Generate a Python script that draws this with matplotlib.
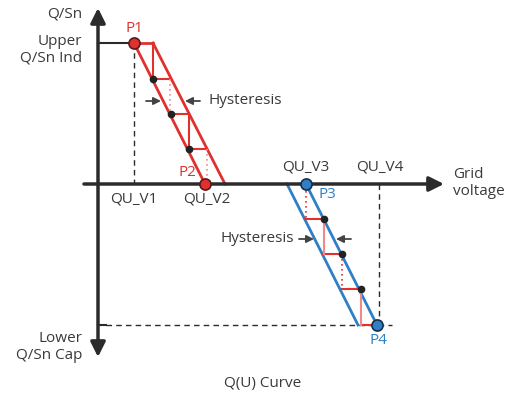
import matplotlib.pyplot as plt

# diagram geometry in pixel units of the 508x398 picture (y grows downward)
y_axis_x = 98
x_axis_y = 184
upper_y = 43
lower_y = 325

# red branch: points P1, P2 and outer hysteresis line
p1 = (134, 43)
p2 = (205, 184)
red_outer = [(153, 43), (225, 184)]
red_dots = [(153, 79), (171, 114), (189, 149)]
red_step_x = [153, 171, 189, 207]   # inner/outer step corners
red_step_y = [43, 79, 114, 149, 184]

# blue branch: points P3, P4 and outer hysteresis line
p3 = (306, 184)
p4 = (377, 325)
blue_outer = [(287, 184), (358, 325)]
blue_dots = [(324, 219), (342, 254), (361, 289)]

RED = '#e0312f'
BLUE = '#2f7fc6'
AX = '#2b2b2b'
TXT = '#3a3a3a'
LIGHT = '#f08a8a'

fig = plt.figure(figsize=(5.08, 3.98), dpi=100)
ax = fig.add_axes([0, 0, 1, 1])
ax.set_xlim(0, 508)
ax.set_ylim(398, 0)
ax.axis('off')

# axes with arrow heads
ax.annotate('', xy=(y_axis_x, 8), xytext=(y_axis_x, 357),
            arrowprops=dict(arrowstyle='<|-|>', lw=2.5, color=AX, mutation_scale=22,
                            shrinkA=0, shrinkB=0))
ax.annotate('', xy=(444, x_axis_y), xytext=(84, x_axis_y),
            arrowprops=dict(arrowstyle='-|>', lw=2.5, color=AX, mutation_scale=22,
                            shrinkA=0, shrinkB=0))

# upper level and guide lines
ax.plot([y_axis_x, p1[0]], [upper_y, upper_y], color=AX, lw=1.5)
ax.plot([p1[0], p1[0]], [upper_y, x_axis_y], color=AX, lw=1, ls=(0, (4, 3)))
ax.plot([y_axis_x, 106], [lower_y, lower_y], color=AX, lw=1.5)
ax.plot([106, 392], [lower_y, lower_y], color=AX, lw=1, ls=(0, (4, 3)))
ax.plot([379, 379], [x_axis_y, lower_y], color=AX, lw=1, ls=(0, (4, 3)))

# red branch
ax.plot([p1[0], p2[0]], [p1[1], p2[1]], color=RED, lw=2)
ax.plot([red_outer[0][0], red_outer[1][0]], [red_outer[0][1], red_outer[1][1]], color=RED, lw=2)
ax.plot([p1[0], red_outer[0][0]], [upper_y, upper_y], color=RED, lw=2)
for i in range(3):
    x0 = red_step_x[i]
    ya, yb = red_step_y[i], red_step_y[i + 1]
    ax.plot([red_dots[i][0], x0 + 18], [yb, yb], color=RED, lw=1.5)
    if i % 2 == 0:
        ax.plot([x0, x0], [ya, yb], color=RED, lw=1.5)
ax.plot([170, 170], [79, 114], color=LIGHT, lw=1.2, ls=(0, (1, 2)))
ax.plot([207, 207], [149, 184], color=LIGHT, lw=1.2, ls=(0, (1, 2)))
ax.plot([s[0] for s in red_dots], [s[1] for s in red_dots], 'o', color='#222', ms=4.5, zorder=5)

# blue branch
ax.plot([p3[0], p4[0]], [p3[1], p4[1]], color=BLUE, lw=2)
ax.plot([blue_outer[0][0], blue_outer[1][0]], [blue_outer[0][1], blue_outer[1][1]], color=BLUE, lw=2)
for xd, yd in blue_dots:
    ax.plot([xd - 19, xd], [yd, yd], color=RED, lw=1.5)
ax.plot([361, 377], [lower_y, lower_y], color=RED, lw=1.5)
ax.plot([306, 306], [186, 219], color=RED, lw=1.2, ls=(0, (1, 2)))
ax.plot([324, 324], [219, 254], color=LIGHT, lw=1.5)
ax.plot([342, 342], [254, 289], color=RED, lw=1.2, ls=(0, (1, 2)))
ax.plot([361, 361], [289, 325], color=LIGHT, lw=1.5)
ax.plot([s[0] for s in blue_dots], [s[1] for s in blue_dots], 'o', color='#222', ms=4.5, zorder=5)

# key points
ax.plot(*p1, 'o', color=RED, mec='#5a1a1a', mew=1.2, ms=8, zorder=6)
ax.plot(*p2, 'o', color=RED, mec='#5a1a1a', mew=1.2, ms=8, zorder=6)
ax.plot(*p3, 'o', color=BLUE, mec='#1a2e4a', mew=1.2, ms=8, zorder=6)
ax.plot(*p4, 'o', color=BLUE, mec='#1a2e4a', mew=1.2, ms=8, zorder=6)

# hysteresis arrows
arr = dict(arrowstyle='-|>', lw=1.3, color='#444', mutation_scale=11, shrinkA=0, shrinkB=0)
ax.annotate('', xy=(161, 101), xytext=(146, 101), arrowprops=arr)
ax.annotate('', xy=(185, 101), xytext=(200, 101), arrowprops=arr)
ax.annotate('', xy=(314, 239), xytext=(299, 239), arrowprops=arr)
ax.annotate('', xy=(336, 239), xytext=(351, 239), arrowprops=arr)

fs = 11
kw = dict(fontsize=fs, color=TXT, family='Open Sans')
ax.text(208, 101, 'Hysteresis', ha='left', va='center', **kw)
ax.text(294, 239, 'Hysteresis', ha='right', va='center', **kw)
ax.text(82, 14, 'Q/Sn', ha='right', va='center', **kw)
ax.text(82, 50, 'Upper\nQ/Sn Ind', ha='right', va='center', linespacing=1.1, **kw)
ax.text(82, 347, 'Lower\nQ/Sn Cap', ha='right', va='center', linespacing=1.1, **kw)
ax.text(453, 183, 'Grid\nvoltage', ha='left', va='center', linespacing=1.1, **kw)
ax.text(134, 199, 'QU_V1', ha='center', va='center', **kw)
ax.text(207, 199, 'QU_V2', ha='center', va='center', **kw)
ax.text(306, 167, 'QU_V3', ha='center', va='center', **kw)
ax.text(380, 167, 'QU_V4', ha='center', va='center', **kw)
ax.text(263, 383, 'Q(U) Curve', ha='center', va='center', **kw)

lab = dict(fontsize=fs, family='Open Sans', va='center', ha='center')
ax.text(134, 29, 'P1', color=RED, **lab)
ax.text(187, 172, 'P2', color=RED, **lab)
ax.text(327, 195, 'P3', color=BLUE, **lab)
ax.text(378, 341, 'P4', color=BLUE, **lab)

fig.savefig('out.png', dpi=100)
